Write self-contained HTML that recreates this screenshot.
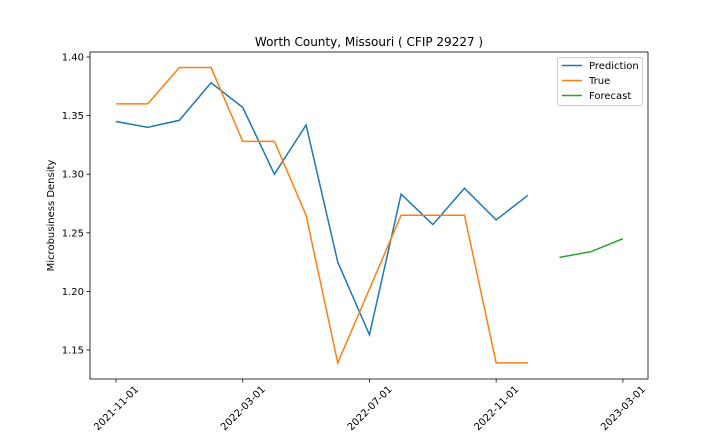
<!DOCTYPE html>
<html><head><meta charset="utf-8"><style>
body{margin:0;background:#fff;font-family:"Liberation Sans","DejaVu Sans",sans-serif}
svg text{font-family:"DejaVu Sans","Liberation Sans",sans-serif;font-size:10px;fill:#000}
</style></head><body>
<svg id="chart" width="720" height="432"></svg>
<script>
const predMonths=[0,1,2,3,4,5,6,7,8,9,10,11,12,13];
const predVals=[1.345,1.340,1.346,1.378,1.357,1.300,1.342,1.225,1.163,1.283,1.257,1.288,1.261,1.282];
const trueMonths=[0,1,2,3,4,5,6,7,8,9,10,11,12,13];
const trueVals=[1.360,1.360,1.391,1.391,1.328,1.328,1.265,1.139,1.202,1.265,1.265,1.265,1.139,1.139];
const fcMonths=[14,15,16];
const fcVals=[1.229,1.234,1.245];
const xTickMonths=[0,4,8,12,16];
const xTickLabels=["2021-11-01","2022-03-01","2022-07-01","2022-11-01","2023-03-01"];
const yTicks=[1.15,1.20,1.25,1.30,1.35,1.40];

const L=90,R=648,T=52,B=379;
const x0=116,mw=31.68;
const X=m=>x0+m*mw;
const y1=1.15,yp1=350,ppu=58.6/0.05;
const Y=v=>yp1-(v-y1)*ppu;
const svg=document.getElementById('chart');
const NS='http://www.w3.org/2000/svg';
function mk(t,a,p){const e=document.createElementNS(NS,t);for(const k in a)e.setAttribute(k,a[k]);(p||svg).appendChild(e);return e;}

const title=mk('text',{x:(L+R)/2,y:46,'text-anchor':'middle',style:'font-size:12px'});


title.textContent='Worth County, Missouri ( CFIP 29227 )';

yTicks.forEach(v=>{
 const g=mk('g',{});
 
 
 mk('line',{x1:L-3.5,x2:L,y1:Y(v),y2:Y(v),stroke:'#000','stroke-width':0.8},g);
 const t=mk('text',{x:L-6,y:Y(v)+3.5,'text-anchor':'end'},g);t.textContent=v.toFixed(2);
});
xTickMonths.forEach((m,i)=>{
 const g=mk('g',{});
 
 
 mk('line',{x1:X(m),x2:X(m),y1:B,y2:B+3.5,stroke:'#000','stroke-width':0.8},g);
 const cx=X(m), cy=B+29;
 const t=mk('text',{x:cx,y:cy+3.5,'text-anchor':'middle',transform:`rotate(-45 ${cx} ${cy})`},g);t.textContent=xTickLabels[i];
});
const yl=mk('text',{x:54,y:(T+B)/2,'text-anchor':'middle',transform:`rotate(-90 54 ${(T+B)/2})`});


yl.textContent='Microbusiness Density';

function line(ms,vs,c,name){
 const p=mk('polyline',{points:ms.map((m,i)=>X(m)+','+Y(vs[i])).join(' '),fill:'none',stroke:c,'stroke-width':1.5});
 
 
}
line(predMonths,predVals,'#1f77b4','prediction-line');
line(trueMonths,trueVals,'#ff7f0e','true-line');
line(fcMonths,fcVals,'#2ca02c','forecast-line');

const ax=mk('rect',{x:L,y:T,width:R-L,height:B-T,fill:'none',stroke:'#000','stroke-width':0.8});



const lg=mk('g',{});


mk('rect',{x:557.5,y:57.5,width:85,height:48,rx:2,fill:'#fff',stroke:'#ccc'},lg);
[['Prediction','#1f77b4'],['True','#ff7f0e'],['Forecast','#2ca02c']].forEach((e,i)=>{
 const g=mk('g',{},lg);
 
 
 const y=65.5+i*15;
 mk('line',{x1:562,x2:582,y1:y,y2:y,stroke:e[1],'stroke-width':1.5},g);
 const t=mk('text',{x:589,y:y+3.5},g);t.textContent=e[0];
});
</script>
</body></html>
